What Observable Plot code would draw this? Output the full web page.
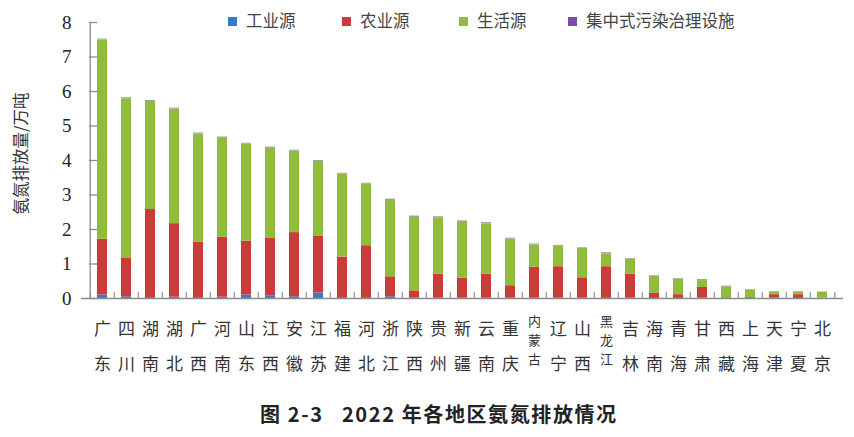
<!DOCTYPE html>
<html>
<head>
<meta charset="utf-8">
<script src="https://cdn.jsdelivr.net/npm/d3@7"></script>
<script src="https://cdn.jsdelivr.net/npm/@observablehq/plot@0.6"></script>
<style>
  html, body { margin: 0; padding: 0; background: #fff; }
  #wrap { position: relative; width: 854px; height: 437px; overflow: hidden; }
  #legend { position: absolute; top: 8px; left: 0; width: 854px; height: 24px; font-family: "Noto Sans CJK SC", sans-serif; font-size: 16.5px; color: #444; }
  #legend .item { position: absolute; top: 0; line-height: 24px; white-space: nowrap; }
  #legend .sw { display: inline-block; width: 9px; height: 9px; margin-right: 9px; vertical-align: 1px; }
  #title { position: absolute; top: 400px; left: 260px; line-height: 28px; font-family: "Noto Sans CJK SC", sans-serif; font-weight: bold; font-size: 20px; color: #222; white-space: pre; letter-spacing: 1.6px; }
  #chart { position: absolute; top: 0; left: 0; }
</style>
</head>
<body>
<div id="wrap">
  <div id="chart"></div>
  <div id="legend"></div>
  <div id="title"></div>
</div>
<script>
const regions = ["广东","四川","湖南","湖北","广西","河南","山东","江西","安徽","江苏","福建","河北","浙江","陕西","贵州","新疆","云南","重庆","内蒙古","辽宁","山西","黑龙江","吉林","海南","青海","甘肃","西藏","上海","天津","宁夏","北京"];
const industry =    [0.10,0.05,0.03,0.04,0.03,0.04,0.10,0.08,0.05,0.16,0.03,0.03,0.05,0.01,0.01,0.01,0.01,0.01,0.01,0.01,0.01,0.03,0.01,0.00,0.00,0.01,0.00,0.01,0.01,0.00,0.00];
const agriculture = [1.62,1.11,2.55,2.13,1.60,1.74,1.56,1.66,1.86,1.64,1.17,1.50,0.58,0.21,0.70,0.58,0.70,0.36,0.90,0.91,0.59,0.89,0.70,0.16,0.11,0.31,0.02,0.02,0.10,0.11,0.01];
const living =      [5.77,4.63,3.13,3.32,3.14,2.86,2.82,2.61,2.36,2.17,2.40,1.78,2.21,2.13,1.63,1.64,1.45,1.35,0.64,0.59,0.85,0.37,0.43,0.48,0.45,0.20,0.32,0.21,0.07,0.08,0.17];
const facility =    [0.03,0.03,0.03,0.03,0.03,0.04,0.02,0.04,0.03,0.03,0.03,0.03,0.04,0.04,0.03,0.02,0.04,0.03,0.03,0.03,0.02,0.04,0.02,0.02,0.02,0.03,0.02,0.02,0.02,0.01,0.01];
const seriesNames = ["工业源","农业源","生活源","集中式污染治理设施"];
const seriesColors = ["#3a78c8","#cc3a3a","#8fbc3c","#a89aab"];
const legendColors = ["#3a78c8","#cc3a3a","#8fbc3c","#7a4ea6"];
const yTicks = [0,1,2,3,4,5,6,7,8];
const yLabel = "氨氮排放量/万吨";
const titleText = "图 2-3   2022 年各地区氨氮排放情况";

const seriesValues = [industry, agriculture, living, facility];
const rows = [];
seriesNames.forEach((s, si) => {
  regions.forEach((r, i) => rows.push({region: r, series: s, value: seriesValues[si][i]}));
});

// vertical stacked labels (one text per region, one character per line)
const labels = regions.map(r => ({region: r, text: Array.from(r).join("\n"), n: Array.from(r).length}));

const W = 854, H = 380;
const mL = 81, mR = 11;
const bw = (W - mL - mR) / regions.length;

const labelFont = "Noto Sans CJK SC";
const chart = Plot.plot({
  width: W,
  height: H,
  marginTop: 22,
  marginBottom: 82,
  marginLeft: mL,
  marginRight: mR,
  style: {background: "#fff", fontFamily: "'Liberation Serif', serif"},
  x: {domain: regions, padding: 0.58, axis: null},
  y: {domain: [0, 8], axis: null},
  color: {domain: seriesNames, range: seriesColors},
  marks: [
    Plot.barY(rows, {x: "region", y: "value", fill: "series", order: seriesNames}),
    Plot.ruleY([0], {stroke: "#8a8a8a", strokeWidth: 1.3}),
    Plot.ruleX([0], {x: () => regions[0], y1: 0, y2: 8, dx: -bw * 0.5, stroke: "#8a8a8a", strokeWidth: 1.3}),
    // inward y ticks
    Plot.tickY(yTicks, {y: d => d, x: () => regions[0], insetLeft: 0, insetRight: bw - 6.5, stroke: "#8a8a8a", strokeWidth: 1.3}),
    Plot.text(yTicks, {y: d => d, frameAnchor: "left", dx: -10, textAnchor: "end", text: d => String(d), fontSize: 19, fill: "#222", fontFamily: "'Liberation Serif', serif"}),
    // x ticks between bands (pointing up)
    Plot.ruleX(regions, {x: d => d, y1: 0, y2: 0.17, dx: -bw / 2, stroke: "#8a8a8a", strokeWidth: 1.2}),
    Plot.ruleX([regions[regions.length - 1]], {x: d => d, y1: 0, y2: 0.17, dx: bw / 2, stroke: "#8a8a8a", strokeWidth: 1.2}),
    // x labels (stacked characters)
    Plot.text(labels.filter(d => d.n === 2), {x: "region", text: "text", frameAnchor: "bottom", dy: 42.5, lineAnchor: "middle", lineHeight: 35 / 17, fontSize: 17, fill: "#333", fontFamily: labelFont}),
    Plot.text(labels.filter(d => d.n === 3), {x: "region", text: "text", frameAnchor: "bottom", dy: 40, lineAnchor: "middle", lineHeight: 19 / 13, fontSize: 13, fill: "#333", fontFamily: labelFont}),
    // y axis label
    Plot.text([yLabel], {frameAnchor: "left", textAnchor: "middle", dx: -60, dy: -7, rotate: -90, text: d => d, fontSize: 16.5, fill: "#333", fontFamily: labelFont})
  ]
});
document.getElementById("chart").appendChild(chart);

// legend
const legendX = [228, 342, 459, 568];
const legend = document.getElementById("legend");
seriesNames.forEach((s, i) => {
  const it = document.createElement("div");
  it.className = "item";
  it.style.left = legendX[i] + "px";
  const sw = document.createElement("span");
  sw.className = "sw";
  sw.style.background = legendColors[i];
  it.appendChild(sw);
  it.appendChild(document.createTextNode(s));
  legend.appendChild(it);
});
document.getElementById("title").textContent = titleText;
</script>
</body>
</html>
